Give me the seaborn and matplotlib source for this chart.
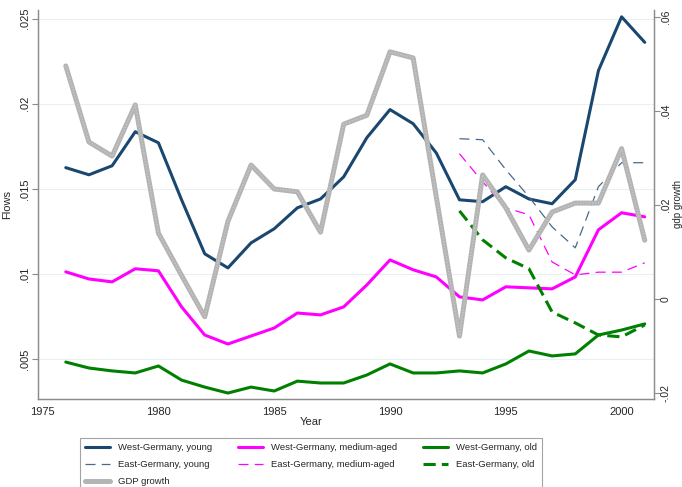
import matplotlib
matplotlib.use("Agg")
import matplotlib.pyplot as plt
import matplotlib.ticker as mticker
import numpy as np
import pandas as pd
import seaborn as sns

years = list(range(1976, 2002))
years_east = list(range(1993, 2002))

west_young = [0.01624, 0.01582, 0.01635, 0.01835, 0.0177, 0.01435, 0.01118, 0.01035, 0.01182,
              0.01265, 0.01388, 0.0144, 0.0157, 0.018, 0.01965, 0.01882, 0.0171, 0.01435,
              0.01424, 0.01512, 0.0144, 0.01412, 0.01553, 0.02194, 0.0251, 0.0236]
west_medium = [0.01012, 0.0097, 0.00953, 0.0103, 0.01018, 0.00806, 0.00641, 0.00588, 0.00635,
               0.00682, 0.0077, 0.00759, 0.00806, 0.00935, 0.01082, 0.01024, 0.00982, 0.00865,
               0.00847, 0.00924, 0.00918, 0.00912, 0.00982, 0.01259, 0.01359, 0.01335]
west_old = [0.00482, 0.00447, 0.0043, 0.00418, 0.00459, 0.00376, 0.00335, 0.003, 0.00335,
            0.00312, 0.0037, 0.00359, 0.00359, 0.00406, 0.00471, 0.00418, 0.00418, 0.0043,
            0.00418, 0.00471, 0.00547, 0.00518, 0.0053, 0.00641, 0.0067, 0.00706]

east_young = [0.01794, 0.01788, 0.01612, 0.01453, 0.01276, 0.01153, 0.01512, 0.01653, 0.01653]
east_medium = [0.01706, 0.01541, 0.01388, 0.01347, 0.0107, 0.00994, 0.0101, 0.0101, 0.01065]
east_old = [0.0137, 0.012, 0.01094, 0.0103, 0.00776, 0.00712, 0.00641, 0.0063, 0.007]

gdp_growth = [0.0496, 0.0334, 0.0304, 0.0413, 0.014, 0.005, -0.0038, 0.0165, 0.0285,
              0.0234, 0.0228, 0.0142, 0.0372, 0.0391, 0.0526, 0.0513, 0.0217, -0.0079,
              0.0264, 0.0194, 0.0104, 0.0185, 0.0204, 0.0204, 0.032, 0.0125]

NAVY = "#1a476f"
MAGENTA = "#ff00ff"
GREEN = "#008000"
GRAY = "#b4b4b4"

sns.set_style("white")
plt.rcParams["font.family"] = ["Liberation Sans", "DejaVu Sans"]

fig = plt.figure(figsize=(6.82, 4.87), dpi=100)
ax = fig.add_axes([38 / 682, 1 - 399 / 487, 616 / 682, 389 / 487])

west = [
    (west_young, NAVY, "West-Germany, young"),
    (west_medium, MAGENTA, "West-Germany, medium-aged"),
    (west_old, GREEN, "West-Germany, old"),
]
for vals, col, lab in west:
    sns.lineplot(x=years, y=vals, color=col, linewidth=2.2, label=lab, ax=ax)

east = [
    (east_young, "#4a6a8c", 0.9, (8, 5), "East-Germany, young"),
    (east_medium, MAGENTA, 0.9, (8, 5), "East-Germany, medium-aged"),
    (east_old, GREEN, 2.2, (4, 2), "East-Germany, old"),
]
for vals, col, lw, dash, lab in east:
    sns.lineplot(x=years_east, y=vals, color=col, linewidth=lw, label=lab, ax=ax)
    ax.lines[-1].set_dashes(dash)

ax.set_xlim(1974.8, 2001.4)
ax.set_ylim(0.00265, 0.0255)
ax.set_yticks([0.005, 0.01, 0.015, 0.02, 0.025])
ax.yaxis.set_major_formatter(mticker.FuncFormatter(lambda v, p: f"{v:.3f}".rstrip("0").lstrip("0")))
ax.set_xticks([1975, 1980, 1985, 1990, 1995, 2000])
ax.grid(axis="y", color="#e8f0f2", linewidth=0.8)
ax.set_axisbelow(True)

ax2 = ax.twinx()
sns.lineplot(x=years, y=gdp_growth, color=GRAY, linewidth=3.6, label="GDP growth", ax=ax2)
ax2.lines[-1].set_solid_capstyle("round")
sns.lineplot(x=years, y=gdp_growth, color="#c8c8c8", linewidth=1.0, ax=ax2)
ax2.lines[-1].set_dashes((1, 1.2))
ax2.set_ylim(-0.0213, 0.0615)
ax2.set_yticks([-0.02, 0, 0.02, 0.04, 0.06])
ax2.set_yticklabels(["-.02", "0", ".02", ".04", ".06"])

for a in (ax, ax2):
    for s in a.spines.values():
        s.set_color("#8c8c8c")
        s.set_linewidth(0.9)
    a.spines["top"].set_visible(False)
    a.tick_params(direction="out", length=4, color="#8c8c8c", labelsize=8, pad=2)
ax.tick_params(axis="y", labelrotation=90)
ax2.tick_params(axis="y", labelrotation=90, pad=1, labelsize=7.5)
for t in ax.get_yticklabels() + ax2.get_yticklabels():
    t.set_va("center")

ax.set_xlabel("Year", fontsize=8)
ax.xaxis.set_label_coords(0.444, -0.045)
ax.set_ylabel("Flows", fontsize=8)
ax.yaxis.set_label_coords(-0.042, 0.5)
ax2.set_ylabel("gdp growth", fontsize=7)
ax2.yaxis.set_label_coords(1.031, 0.5)

handles1, labels1 = ax.get_legend_handles_labels()
handles2, labels2 = ax2.get_legend_handles_labels()
ax.get_legend().remove()
ax2.get_legend().remove()
h = dict(zip(labels1 + labels2, handles1 + handles2))
order = ["West-Germany, young", "East-Germany, young", "GDP growth",
         "West-Germany, medium-aged", "East-Germany, medium-aged",
         "West-Germany, old", "East-Germany, old"]
leg = fig.legend([h[k] for k in order], order, ncol=3, loc="upper center",
                 bbox_to_anchor=(311 / 682, 1 - 433 / 487), fontsize=6.8, frameon=True,
                 fancybox=False, edgecolor="#8c8c8c", borderpad=0.55, labelspacing=0.85,
                 columnspacing=2.8, handlelength=2.6, handletextpad=0.85)
leg.get_frame().set_linewidth(0.8)

fig.savefig("out.png", dpi=100)
